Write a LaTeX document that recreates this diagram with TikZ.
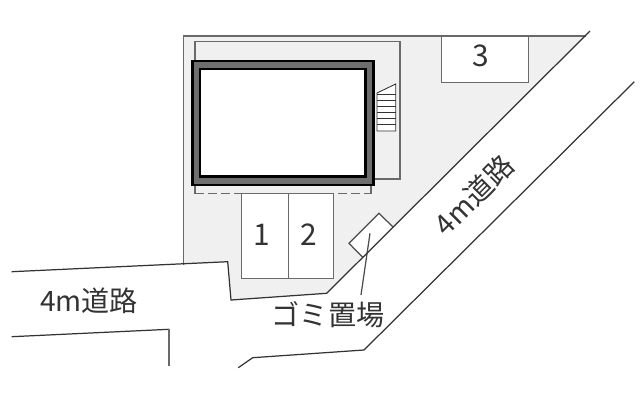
\documentclass[tikz,border=0pt]{standalone}
\usepackage{xcolor}
\usepackage{fontspec}
\setmainfont{Noto Sans CJK JP}
\definecolor{sitegray}{HTML}{F0F0F0}
\definecolor{wallgray}{HTML}{6E6E6E}
\definecolor{linegray}{HTML}{6A6A6A}
\definecolor{textgray}{HTML}{333333}
\tikzset{
  siteline/.style={draw=linegray, line width=0.9pt},
  roadline/.style={draw=black!80, line width=0.7pt},
  labeltext/.style={text=textgray, inner sep=0pt, font=\fontsize{16}{16}\selectfont},
  numtext/.style={text=textgray, inner sep=0pt, font=\fontsize{17}{17}\selectfont}
}
\begin{document}
\begin{tikzpicture}[x=0.02cm,y=-0.02cm]
            \useasboundingbox (0,0) rectangle (640,400);

            % Site
            \fill[sitegray] (183.5,36) -- (586,36) -- (326.7,293.3) -- (231,300) -- (228,262) -- (183.5,264.5) -- cycle;
            \draw[siteline] (183.5,264.5) -- (183.5,36) -- (586,36);

            % Yard around the building
            \draw[siteline] (195,62) -- (195,41.5) -- (400,41.5) -- (400,179) -- (372,179);

            % Building
            \draw[draw=black, fill=wallgray, line width=1.2pt] (192.5,61) rectangle (373.5,185);
            \draw[draw=black, fill=white, line width=1.6pt] (200,69) rectangle (365.7,176.7);

            % Stairs
            \draw[draw=black!80, line width=0.5pt, fill=white] (377,93) -- (395.7,84) -- (395.7,131) -- (377,131) -- cycle;
            \foreach \y in {94,100,106,112,118,124}
              \draw[draw=black!80, line width=0.5pt] (377,\y) -- (395.7,\y);

            % Eaves
            \draw[siteline, dash pattern=on 5pt off 2.4pt] (195,193.7) -- (371,193.7);
            \draw[siteline] (195,186) -- (195,193.7);
            \draw[siteline] (371,186) -- (371,193.7);

            % Parking
            \draw[siteline, fill=white] (241.7,193.7) rectangle (333.7,278.3);
            \draw[siteline] (288.7,193.7) -- (288.7,278.3);
            \node[numtext] (lotone) at (262,235) {1};
            \node[numtext] (lottwo) at (309,235) {2};

            \draw[siteline, fill=white] (441.7,36) rectangle (528.7,82.3);
            \node[numtext] (lotthree) at (481,56) {3};

            % Garbage place
            \draw[draw=black!70, line width=0.7pt, fill=white] (362.7,257.3) -- (349,243.3) -- (379,213.3) -- (392.7,226.7);
            \coordinate (garbage) at (370,233.3);
            \node[labeltext] (garbagelabel) at (328,315) {ゴミ置場};
            \draw[draw=black!70, line width=0.7pt] (garbage) -- (361,295);

            % Roads
            \draw[roadline] (11.7,271.7) -- (227.7,261.7) -- (231,300) -- (326.7,293.3) -- (590,31);
            \draw[roadline] (11.7,336.7) -- (169,329.3);
            \draw[siteline] (169,329.3) -- (169,365.7);
            \draw[roadline] (238.3,367.7) -- (252.7,357.7) -- (364,350) -- (634.3,81.7);

            % Road labels
            \node[labeltext] (westroad) at (89,301) {4m道路};
            \node[labeltext, rotate=45] (eastroad) at (474,195) {4m道路};
\end{tikzpicture}
\end{document}
